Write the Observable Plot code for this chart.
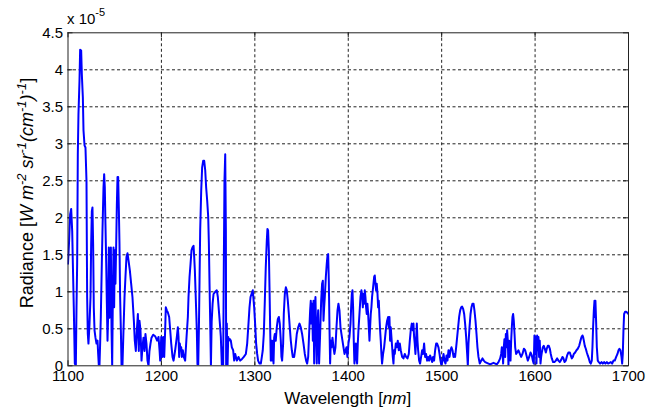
<!DOCTYPE html>
<html><head><meta charset="utf-8">
<script src="https://cdn.jsdelivr.net/npm/d3@7"></script>
<script src="https://cdn.jsdelivr.net/npm/@observablehq/plot@0.6"></script>
<style>body{margin:0;background:#fff;} svg{display:block}</style>
</head><body><div id="chart"></div>
<script>
// Wavelength (nm) and radiance (units of 1e-5 W m^-2 sr^-1 (cm^-1)^-1)
const wavelength = [
1100,1101.2,1102.3,1103.4,1104.5,1105.2,1106.2,1107.3,1108.4,1109.1,1109.8,1110.5,1111.2,1112.3,1113.0,1114.1,1114.8,1115.9,1116.6,1117.7,1118.7,1119.8,1120.2,1120.5,1121.2,1121.9,1123.0,1124.1,1124.8,1125.5,1126.2,1126.9,1127.6,1128.4,1129.4,1130.5,1131.6,1132.3,1133.0,1133.7,1134.4,1135.1,1136.2,1136.9,1138.0,1138.7,1139.4,1140.1,1140.9,1141.6,1142.3,1143.0,1143.7,1144.4,1145.1,1145.9,1146.6,1147.3,1148.0,1148.7,1149.4,1150.1,1150.8,1151.6,1152.3,1153.0,1153.7,1154.4,1155.1,1155.8,1156.6,1157.3,1158.3,1159.4,1160.5,1161.5,1162.6,1163.7,1164.8,1166.2,1167.6,1169.0,1170.5,1171.5,1172.6,1173.7,1174.8,1175.8,1176.5,1177.6,1178.7,1179.7,1180.8,1181.9,1182.9,1184.0,1185.1,1186.2,1187.2,1188.3,1189.4,1191.2,1193.3,1195.4,
1196.9,1198.0,1198.7,1199.8,1200.8,1201.9,1203.0,1204.0,1204.7,1205.8,1206.9,1208.3,1209.4,1210.5,1211.9,1213.0,1214.7,1216.5,1217.6,1218.3,1219.0,1219.7,1220.5,1221.2,1221.9,1222.9,1224.0,1225.4,1226.9,1228.3,1229.0,1230.1,1231.2,1232.2,1233.3,1234.4,1235.1,1235.8,1236.5,1237.2,1237.9,1238.6,1239.4,1240.1,1240.8,1241.5,1242.6,1243.6,1244.7,1245.8,1246.9,1247.9,1249.0,1250.1,1250.8,1251.5,1252.2,1253.0,1253.8,1254.8,1255.8,1257.6,1259.3,1260.4,1261.5,1262.6,1263.6,1264.7,1265.4,1266.1,1266.8,1267.5,1268.3,1269.0,1269.3,1270.0,1270.8,1271.5,1272.2,1273.3,1274.3,1275.4,1276.8,1277.9,1279.0,1280.8,1282.5,1284.3,1286.1,1288.2,1290.4,1291.8,1293.2,1294.3,1295.4,
1297.8,1299.3,1300.3,1301.4,1302.5,1303.5,1305.0,1306.4,1307.5,1308.5,1309.6,1310.7,1311.7,1312.8,1313.5,1314.2,1315.0,1315.7,1316.4,1317.1,1317.8,1318.5,1319.2,1320.0,1320.7,1321.4,1322.4,1323.5,1324.6,1325.7,1326.7,1327.8,1328.5,1329.2,1330.3,1331.0,1332.1,1333.2,1334.2,1335.3,1336.4,1337.4,1338.5,1339.6,1340.6,1342.1,1343.5,1344.9,1346.4,1347.8,1349.2,1350.6,1352.1,1353.5,1354.9,1356.0,1357.1,1358.1,1359.2,1359.9,1360.6,1361.3,1362.1,1362.8,1363.5,1364.2,1364.9,1365.6,1366.3,1367.1,1367.8,1368.8,1369.9,1371.0,1372.0,1372.8,1373.5,1374.2,1374.9,1376.0,1377.0,1377.8,1378.5,1379.2,1379.9,1380.6,1381.3,1382.0,1383.1,1384.2,1385.2,1386.3,1387.4,1388.5,1389.5,1390.6,1391.7,1392.7,1393.8,1394.9,1396.0,
1398.1,1399.1,1400.2,1401.3,1402.4,1403.1,1403.8,1404.5,1405.2,1405.9,1406.6,1407.3,1408.1,1408.8,1409.5,1410.2,1410.9,1412.0,1413.1,1414.1,1414.8,1415.6,1416.3,1417.0,1417.7,1418.4,1419.1,1419.8,1420.5,1421.3,1422.0,1422.7,1423.4,1424.1,1424.8,1425.5,1426.6,1427.7,1428.4,1429.1,1429.8,1430.5,1431.3,1432.0,1432.7,1433.4,1434.1,1434.8,1435.5,1436.2,1437.3,1438.4,1439.5,1440.5,1441.6,1442.7,1443.4,1444.1,1444.8,1445.5,1446.2,1447.0,1447.7,1448.4,1449.1,1449.8,1450.9,1451.9,1453.0,1454.1,1455.2,1456.2,1457.7,1459.1,1460.5,1461.9,1463.4,1464.8,1465.9,1466.9,1468.0,1469.1,1469.8,1470.5,1471.2,1471.9,1472.6,1473.4,1474.1,1474.8,1475.9,1476.9,1478.0,1479.1,1480.1,1481.2,1482.3,1483.3,1484.4,1485.5,1486.6,1487.6,1488.7,1489.8,1490.8,1491.9,1493.0,1494.1,1495.1,1496.6,1497.7,1498.7,1499.8,
1500.9,1502.0,1503.0,1504.1,1505.2,1506.2,1507.3,1508.4,1509.4,1510.5,1511.6,1512.7,1513.7,1514.4,1515.5,1516.6,1517.6,1518.7,1519.8,1520.9,1521.9,1523.0,1524.1,1525.1,1526.2,1527.3,1528.0,1528.7,1529.8,1530.9,1531.9,1533.0,1534.1,1535.1,1536.2,1537.3,1538.3,1539.4,1540.8,1542.3,1543.7,1545.1,1546.6,1548.3,1550.1,1551.9,1553.7,1555.5,1557.3,1559.0,1560.8,1562.6,1563.7,1564.4,1565.1,1565.8,1566.5,1567.2,1568.0,1568.7,1569.4,1570.1,1570.8,1571.5,1572.2,1573.0,1573.7,1574.4,1575.1,1575.8,1576.5,1577.2,1578.0,1578.7,1579.7,1580.8,1582.2,1583.7,1585.1,1586.5,1588.0,1589.4,1590.8,1592.2,1593.7,1595.1,1596.5,1597.6,1598.6,
1599.3,1600.1,1600.8,1601.5,1602.2,1602.9,1603.6,1604.3,1605.0,1605.8,1606.5,1607.2,1608.3,1609.3,1610.4,1611.5,1612.5,1613.6,1614.7,1615.8,1616.8,1617.9,1619.3,1620.7,1622.2,1623.6,1625.0,1626.5,1627.9,1629.3,1630.4,1631.5,1632.9,1634.3,1635.7,1637.2,1638.2,1639.3,1640.4,1641.4,1642.9,1644.3,1645.7,1647.2,1648.6,1649.7,1650.7,1651.4,1652.2,1653.2,1654.3,1655.4,1656.4,1657.5,1658.6,1659.6,1660.7,1661.4,1662.1,1662.9,1663.6,1664.3,1664.6,1665.4,1666.1,1667.1,1668.2,1669.6,1671.1,1672.5,1673.9,1675.3,1676.8,1678.2,1679.6,1681.1,1682.5,1683.9,1685.3,1686.8,1688.2,1689.3,1690.3,1691.4,1692.5,1693.2,1693.9,1694.6,1695.3,1696.4,1697.5,1698.5,1700
];
const radiance = [
1.38,1.69,2.05,2.12,1.82,1.38,0.79,0.03,0,0.79,1.38,2.86,3.40,3.85,4.27,4.26,3.94,3.63,3.18,2.98,2.95,2.50,1.56,0.93,0.43,0.30,0.56,0.93,1.65,2.09,2.14,1.65,0.79,0.48,0.38,0.30,0.34,0.16,0,0,0.30,0.65,1.38,1.82,2.41,2.59,2.41,1.91,1.38,0.84,0.34,0.70,1.60,0.65,0.93,1.60,0.48,0,0.93,1.60,0.79,1.56,1.11,1.65,2.18,2.55,2.55,2.14,1.65,0.93,0.48,0,0,0.48,0.93,1.20,1.47,1.52,1.42,1.29,1.11,0.93,0.61,0.34,0.20,0.48,0.70,0.20,0.61,0.48,0.07,0.25,0.38,0.20,0.43,0.30,0.07,0,0.20,0.30,0.38,0.42,0.40,0.34,
0.39,0.21,0.07,0.39,0.12,0.39,0.12,0.48,0.79,0.75,0.72,0.66,0.48,0.30,0.12,0.07,0.21,0.39,0.52,0.39,0.12,0.30,0.21,0.25,0.12,0.21,0.12,0.07,0.39,0.66,0.93,1.20,1.38,1.56,1.60,1.62,1.47,1.29,1.02,0.75,0.48,0.02,0,0.48,1.15,1.83,2.37,2.68,2.77,2.77,2.64,2.41,2.23,2.01,1.65,1.11,0.61,0,0.60,0.84,0.97,1.00,1.02,0.93,0.75,0.57,0.39,0,0.25,0,1.38,2.50,2.86,1.83,0,0.57,0,0.39,0.34,0.36,0.34,0.25,0.21,0.07,0.16,0.07,0.12,0.07,0.09,0.12,0.16,0.30,0.57,0.79,0.93,
1.02,0.79,0.57,0.30,0.16,0.07,0.03,0.03,0.12,0.21,0.43,0.88,1.33,1.69,1.85,1.83,1.56,1.06,0.52,0.07,0.34,0.07,0.34,0.03,0.38,0.43,0.34,0.52,0.63,0.66,0.57,0.34,0.12,0.07,0.30,0.70,0.97,1.06,1.02,0.88,0.70,0.52,0.34,0.21,0.12,0.12,0.25,0.43,0.52,0.57,0.52,0.43,0.30,0.16,0.07,0.03,0.12,0.43,0.75,0.88,0.57,0.84,0.34,0.88,0.03,0.79,0.93,0.43,0.03,0.57,0.75,0.03,0.43,0.88,1.11,1.15,0.61,0.79,0.93,1.20,1.38,1.49,1.51,1.15,0.52,0.03,0.34,0.25,0.38,0.25,0.16,0.25,0.52,0.75,0.84,0.75,0.52,0.43,0.34,0.25,0.16,
0.25,0.12,0.30,0.39,0.57,0.79,0.97,1.02,0.79,0.34,0.03,0.12,0.30,0.12,0.03,0.30,0.48,0.70,0.93,1.02,0.97,0.79,0.97,0.84,1.02,0.93,0.79,0.70,0.84,0.70,0.52,0.34,0.52,0.70,0.79,0.93,1.06,1.20,1.22,1.11,1.02,1.11,0.97,0.79,0.88,0.66,0.48,0.34,0.16,0.03,0.16,0.25,0.39,0.52,0.61,0.66,0.52,0.66,0.34,0.52,0.39,0.25,0.12,0.03,0.21,0.16,0.30,0.25,0.34,0.21,0.30,0.21,0.12,0.10,0.16,0.12,0.10,0.16,0.34,0.48,0.57,0.48,0.57,0.39,0.30,0.16,0.34,0.57,0.34,0.21,0.07,0.03,0.12,0.21,0.16,0.30,0.12,0.16,0.07,0.12,0.07,0.14,0.10,0.05,0.12,0.07,0.21,0.30,0.30,0.25,0.16,0.07,0,
0.07,0.16,0.07,0.03,0.14,0.07,0.21,0.12,0.21,0.25,0.21,0.12,0.16,0.12,0.25,0.39,0.52,0.66,0.75,0.79,0.80,0.77,0.70,0.57,0.39,0.16,0,0.30,0.52,0.70,0.79,0.84,0.84,0.75,0.61,0.43,0.25,0.12,0.03,0.07,0.10,0.07,0.05,0.04,0.03,0.02,0.03,0.04,0.03,0.02,0.05,0.10,0.16,0.25,0.21,0.03,0.25,0.36,0.12,0.43,0.25,0.48,0.34,0,0.34,0.25,0.07,0.34,0.52,0.66,0.70,0.61,0.43,0.25,0.16,0.18,0.21,0.16,0.12,0.16,0.23,0.21,0.14,0.07,0.12,0.18,0.14,0.07,0.03,
0.41,0.16,0.39,0.03,0.41,0.21,0.39,0.12,0.34,0.03,0.12,0.18,0.25,0.27,0.23,0.18,0.23,0.27,0.27,0.23,0.16,0.10,0.05,0.05,0.07,0.10,0.07,0.05,0.08,0.12,0.10,0.05,0.07,0.14,0.18,0.18,0.14,0.10,0.12,0.16,0.18,0.21,0.23,0.27,0.34,0.39,0.41,0.39,0.34,0.27,0.23,0.18,0.14,0.10,0.05,0.03,0.07,0.25,0.52,0.75,0.88,0.66,0.88,0.57,0.25,0.07,0.05,0.03,0.05,0.03,0.05,0.03,0.05,0.03,0.04,0.05,0.03,0.07,0.07,0.12,0.16,0.21,0.23,0.21,0.12,0.03,0.16,0.48,0.70,0.73,0.73,0.72,0.70
];
const xTicks = [1100, 1200, 1300, 1400, 1500, 1600, 1700];
const yTicks = [0, 0.5, 1, 1.5, 2, 2.5, 3, 3.5, 4, 4.5];
const yTickLabels = ["0", "0.5", "1", "1.5", "2", "2.5", "3", "3.5", "4", "4.5"];

const data = wavelength.map((w, i) => ({w, r: radiance[i]}));
const W = 646, H = 411, mL = 67.5, mR = 18, mT = 32.3, mB = 45.7;
const plotW = W - mL - mR, plotH = H - mT - mB;
const font = "'Liberation Sans', Arial, sans-serif";

const chart = Plot.plot({
  width: W, height: H,
  marginLeft: mL, marginRight: mR, marginTop: mT, marginBottom: mB,
  style: {fontFamily: font, fontSize: "15px", color: "#000", background: "#fff"},
  x: {domain: [1100, 1700], label: null},
  y: {domain: [0, 4.5], label: null},
  marks: [
    Plot.ruleX(xTicks.slice(1, -1), {stroke: "#222", strokeWidth: 1, strokeDasharray: "3,2.5"}),
    Plot.ruleY(yTicks.slice(1, -1), {stroke: "#222", strokeWidth: 1, strokeDasharray: "3,2.5"}),
    Plot.ruleX(xTicks, {stroke: "#222", insetTop: plotH - 5}),
    Plot.ruleX(xTicks, {stroke: "#222", insetBottom: plotH - 5}),
    Plot.ruleY(yTicks, {stroke: "#222", insetRight: plotW - 5}),
    Plot.ruleY(yTicks, {stroke: "#222", insetLeft: plotW - 5}),
    Plot.line(data, {x: "w", y: "r", stroke: "#0000ff", strokeWidth: 2, clip: true}),
    Plot.frame({stroke: "#222"}),
    Plot.axisX(xTicks, {tickSize: 0, tickPadding: 5, tickFormat: d => String(d), fill: "#000"}),
    Plot.axisY(yTicks, {tickSize: 0, tickPadding: 5, tickFormat: d => yTickLabels[yTicks.indexOf(d)], fill: "#000"})
  ]
});
document.getElementById("chart").appendChild(chart);

const svg = d3.select(chart);
// exponent marker
const ex = svg.append("text").attr("x", 67).attr("y", 24).attr("text-anchor", "start")
  .attr("font-family", font).attr("font-size", 15).attr("fill", "#000");
ex.append("tspan").text("x 10");
ex.append("tspan").attr("font-size", 11).attr("dy", -8).text("-5");

// y label
const yl = svg.append("text")
  .attr("transform", `translate(33,193) rotate(-90)`)
  .attr("text-anchor", "middle").attr("font-family", font).attr("font-size", 18)
  .attr("fill", "#000").style("white-space", "pre");
yl.append("tspan").text("Radiance [");
yl.append("tspan").attr("font-style", "italic").text("W m");
yl.append("tspan").attr("font-style", "italic").attr("font-size", 13).attr("dy", -7).text("-2");
yl.append("tspan").attr("font-style", "italic").attr("dy", 7).text(" sr");
yl.append("tspan").attr("font-style", "italic").attr("font-size", 13).attr("dy", -7).text("-1");
yl.append("tspan").attr("font-style", "italic").attr("dy", 7).text("(cm");
yl.append("tspan").attr("font-style", "italic").attr("font-size", 13).attr("dy", -7).text("-1");
yl.append("tspan").attr("font-style", "italic").attr("dy", 7).text(")");
yl.append("tspan").attr("font-style", "italic").attr("font-size", 13).attr("dy", -7).text("-1");
yl.append("tspan").attr("dy", 7).text("]");

// x label
const xl = svg.append("text").attr("x", mL + plotW / 2).attr("y", 404)
  .attr("text-anchor", "middle").attr("font-family", font).attr("font-size", 17).attr("fill", "#000");
xl.append("tspan").text("Wavelength [");
xl.append("tspan").attr("font-style", "italic").text("nm");
xl.append("tspan").text("]");
</script>
</body></html>
